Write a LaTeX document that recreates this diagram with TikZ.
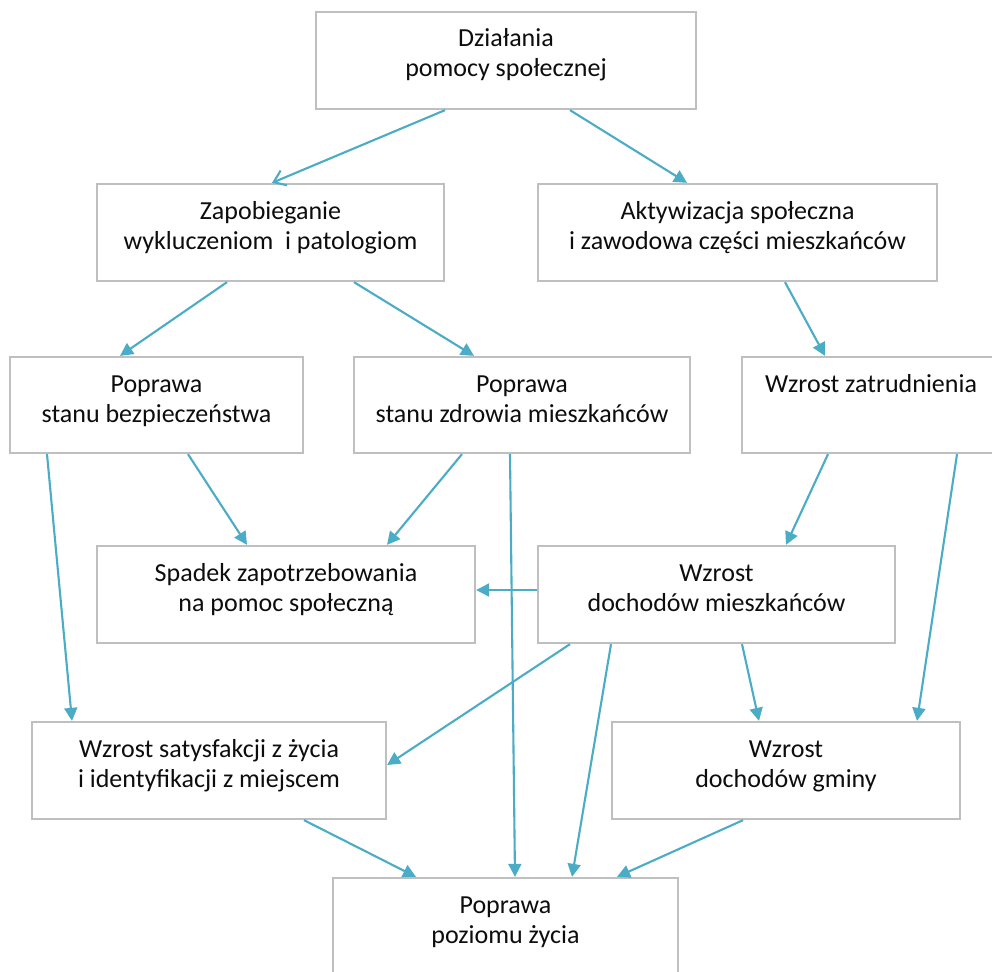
\documentclass[tikz,border=0pt]{standalone}
\usepackage{fontspec}
\setmainfont{Carlito}
\usetikzlibrary{arrows.meta}
\definecolor{boxgray}{HTML}{BFBFBF}
\definecolor{arrcol}{HTML}{4BACC6}
\definecolor{txtcol}{HTML}{0D0D0D}
\newcommand{\mylines}[1]{\begin{tabular}[t]{@{}c@{}}#1\end{tabular}}
\tikzset{
  box/.style={draw=boxgray, line width=2.3pt, inner sep=0pt, text height=35pt,
    font=\fontsize{26}{30}\selectfont, text=txtcol},
  arr/.style={draw=arrcol, line width=2.1pt, -{Triangle[length=13pt,width=13pt]}},
  arrv/.style={draw=arrcol, line width=2.1pt, -{Straight Barb[length=11pt,width=16pt,line width=2.1pt]}}
}
\begin{document}
\begin{tikzpicture}[x=1pt,y=-1pt]
\useasboundingbox (0,0) rectangle (992,971);
\clip (0,0) rectangle (992,971);
\fill[white] (0,0) rectangle (992,971);

\node[box, minimum width=380pt, text depth=62pt] (top) at (506,60.5) {\mylines{Działania\\pomocy społecznej}};
\node[box, minimum width=347pt, text depth=62pt] (zap) at (270.5,232.5) {\mylines{Zapobieganie\\wykluczeniom\ \ i patologiom}};
\node[box, minimum width=399pt, text depth=62pt] (akt) at (737.5,232.5) {\mylines{Aktywizacja społeczna\\i zawodowa części mieszkańców}};
\node[box, minimum width=293pt, text depth=61pt] (bez) at (156.5,405) {\mylines{Poprawa\\stanu bezpieczeństwa}};
\node[box, minimum width=336pt, text depth=61pt] (zdr) at (522,405) {\mylines{Poprawa\\stanu zdrowia mieszkańców}};
\node[box, minimum width=258pt, text depth=61pt] (zat) at (871,405) {\mylines{Wzrost zatrudnienia}};
\node[box, minimum width=378pt, text depth=62pt] (spa) at (286,594.5) {\mylines{Spadek zapotrzebowania\\na pomoc społeczną}};
\node[box, minimum width=357pt, text depth=62pt] (doch) at (716.5,594.5) {\mylines{Wzrost\\dochodów mieszkańców}};
\node[box, minimum width=354pt, text depth=62pt] (sat) at (209,770.5) {\mylines{Wzrost satysfakcji z życia\\i identyfikacji z miejscem}};
\node[box, minimum width=348pt, text depth=62pt] (gmi) at (786,770.5) {\mylines{Wzrost\\dochodów gminy}};
\node[box, minimum width=345pt, text depth=62pt] (pop) at (505.5,926.5) {\mylines{Poprawa\\poziomu życia}};

\draw[arrv] ([xshift=-61pt]top.south) -- ([xshift=1.5pt]zap.north);
\draw[arr] ([xshift=64pt]top.south) -- ([xshift=-50.5pt]akt.north);
\draw[arr] ([xshift=-43.5pt]zap.south) -- ([xshift=-36.5pt]bez.north);
\draw[arr] ([xshift=83.5pt]zap.south) -- ([xshift=-48pt]zdr.north);
\draw[arr] ([xshift=47.5pt]akt.south) -- ([xshift=-46pt]zat.north);
\draw[arr] ([xshift=-109.5pt]bez.south) -- ([xshift=-137pt]sat.north);
\draw[arr] ([xshift=31.5pt]bez.south) -- ([xshift=-39pt]spa.north);
\draw[arr] ([xshift=-60pt]zdr.south) -- ([xshift=101pt]spa.north);
\draw[arr] ([xshift=-12pt]zdr.south) -- ([xshift=9.5pt]pop.north);
\draw[arr] ([yshift=4.5pt]doch.west) -- ([yshift=4.5pt]spa.east);
\draw[arr] ([xshift=-43pt]zat.south) -- ([xshift=69.5pt]doch.north);
\draw[arr] ([xshift=86pt]zat.south) -- ([xshift=131pt]gmi.north);
\draw[arr] ([xshift=-146.5pt]doch.south) -- ([yshift=5.5pt]sat.east);
\draw[arr] ([xshift=-105.5pt]doch.south) -- ([xshift=66.5pt]pop.north);
\draw[arr] ([xshift=25.5pt]doch.south) -- ([xshift=-27pt]gmi.north);
\draw[arr] ([xshift=95pt]sat.south) -- ([xshift=-89.5pt]pop.north);
\draw[arr] ([xshift=-43pt]gmi.south) -- ([xshift=111.5pt]pop.north);
\end{tikzpicture}
\end{document}
